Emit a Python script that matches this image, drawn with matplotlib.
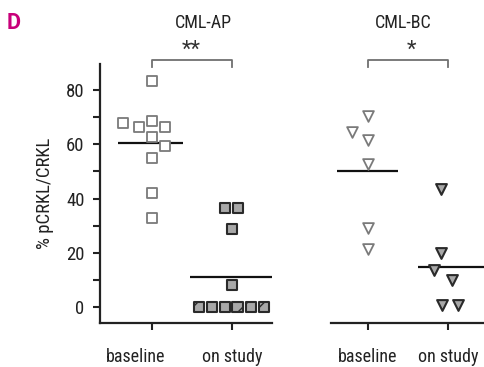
import numpy as np
import matplotlib
matplotlib.use("Agg")
import matplotlib.pyplot as plt
from matplotlib import font_manager
from matplotlib.transforms import ScaledTranslation

# pick a narrow sans if one is installed
installed = {f.name for f in font_manager.fontManager.ttflist}
font = "DejaVu Sans"
for cand in ["Liberation Sans Narrow", "DejaVu Sans Condensed", "Roboto Condensed",
             "Open Sans Condensed", "Arial Narrow", "Roboto"]:
    if cand in installed:
        font = cand
        break
plt.rcParams["font.family"] = [font, "DejaVu Sans"]
plt.rcParams["hatch.color"] = "#222222"
plt.rcParams["hatch.linewidth"] = 1.0

categories = ["baseline", "on study"]

# CML-AP (squares)
ap_base_x = [0.0, -0.36, -0.16, 0.0, 0.16, 0.0, 0.16, 0.0, 0.0, 0.0]
ap_base_y = [83.4, 67.8, 66.5, 68.6, 66.5, 62.8, 59.5, 54.9, 41.9, 33.0]
ap_study_x = [0.91, 1.07, 1.0, 1.0, 0.59, 0.75, 0.91, 1.07, 1.24, 1.40]
ap_study_y = [36.4, 36.4, 28.8, 8.1, 0.0, 0.0, 0.0, 0.0, 0.0, 0.0]
ap_study_hatched = [False, False, False, False, True, False, False, True, True, True]

# CML-BC (down triangles)
bc_base_x = [0.0, -0.2, 0.0, 0.0, 0.0, 0.0]
bc_base_y = [70.6, 64.7, 61.6, 52.8, 29.0, 21.3]
bc_study_x = [0.91, 0.91, 0.82, 1.05, 0.93, 1.12]
bc_study_y = [43.4, 20.0, 13.6, 10.0, 0.7, 0.7]

titles = ["CML-AP", "CML-BC"]
stars = ["**", "*"]

W, H = 484, 367
fig = plt.figure(figsize=(W / 100, H / 100), dpi=100)
ylo, yhi = -5.9, 89.6
ax1 = fig.add_axes([100 / W, 1 - 323 / H, 172 / W, 259 / H])
ax2 = fig.add_axes([331 / W, 1 - 323 / H, 153 / W, 259 / H])

base_kw = dict(facecolor="white", edgecolor="#7a7a7a", linewidths=1.3, zorder=3)
study_kw = dict(facecolor="#a8a8a8", edgecolor="#2a2a2a", linewidths=1.5, zorder=3)

# left panel
ax1.scatter(ap_base_x, ap_base_y, marker="s", s=56, **base_kw)
hat = np.array(ap_study_hatched)
sx, sy = np.array(ap_study_x), np.array(ap_study_y)
ax1.scatter(sx[~hat], sy[~hat], marker="s", s=56, **study_kw)
ax1.scatter(sx[hat], sy[hat], marker="s", s=56, hatch="//", **study_kw)
ax1.hlines(np.mean(ap_base_y), -0.42, 0.39, color="#111111", lw=1.6, zorder=2)
ax1.hlines(np.mean(ap_study_y), 0.48, 1.5, color="#111111", lw=1.6, zorder=2)

# right panel
ax2.scatter(bc_base_x, bc_base_y, marker="v", s=60, **base_kw)
ax2.scatter(bc_study_x, bc_study_y, marker="v", s=60, **study_kw)
ax2.hlines(np.mean(bc_base_y), -0.39, 0.38, color="#111111", lw=1.6, zorder=2)
ax2.hlines(np.mean(bc_study_y), 0.62, 1.45, color="#111111", lw=1.6, zorder=2)

for ax, xl, title, tx, st, sxp in [(ax1, (-0.65, 1.5), titles[0], 0.64, stars[0], 0.49),
                                   (ax2, (-0.46, 1.45), titles[1], 0.44, stars[1], 0.55)]:
    ax.set_xlim(*xl)
    ax.set_ylim(ylo, yhi)
    ax.set_xticks([0, 1])
    ax.set_xticklabels(categories, fontsize=13, color="#222222")
    ax.tick_params(axis="x", length=5, width=1.5, pad=13, color="#222222")
    for s in ["top", "right"]:
        ax.spines[s].set_visible(False)
    ax.spines["bottom"].set_linewidth(1.6)
    ax.spines["bottom"].set_color("#222222")
    # significance bracket
    ax.plot([0, 0, 1, 1], [88.5, 91.1, 91.1, 88.5], color="#707070", lw=1.3,
            clip_on=False)
    ax.text(sxp, 94.5, st, ha="center", va="center", fontsize=16, color="#333333",
            clip_on=False)
    ax.text(tx, 102.9, title, ha="center", va="baseline", fontsize=13,
            color="#222222", clip_on=False)

# left "baseline" label sits a bit left of its tick in the original
lab = ax1.get_xticklabels()[0]
lab.set_transform(lab.get_transform() + ScaledTranslation(-16 / 100, 0, fig.dpi_scale_trans))

ax1.set_yticks([0, 20, 40, 60, 80])
ax1.set_yticks([10, 30, 50, 70], minor=True)
ax1.tick_params(axis="y", which="both", length=5, width=1.5, color="#222222",
                labelsize=13.5, labelcolor="#222222", pad=6)
ax1.spines["left"].set_linewidth(1.6)
ax1.spines["left"].set_color("#222222")
ax1.set_ylabel("% pCRKL/CRKL", fontsize=13.5, color="#222222", labelpad=9)

ax2.spines["left"].set_visible(False)
ax2.set_yticks([])

fig.text(7 / W, 1 - 29 / H, "D", fontsize=15.5, fontweight="bold", color="#c8007a",
         ha="left", va="baseline", family=["Roboto", font, "DejaVu Sans"])

fig.savefig("out.png", dpi=100)
